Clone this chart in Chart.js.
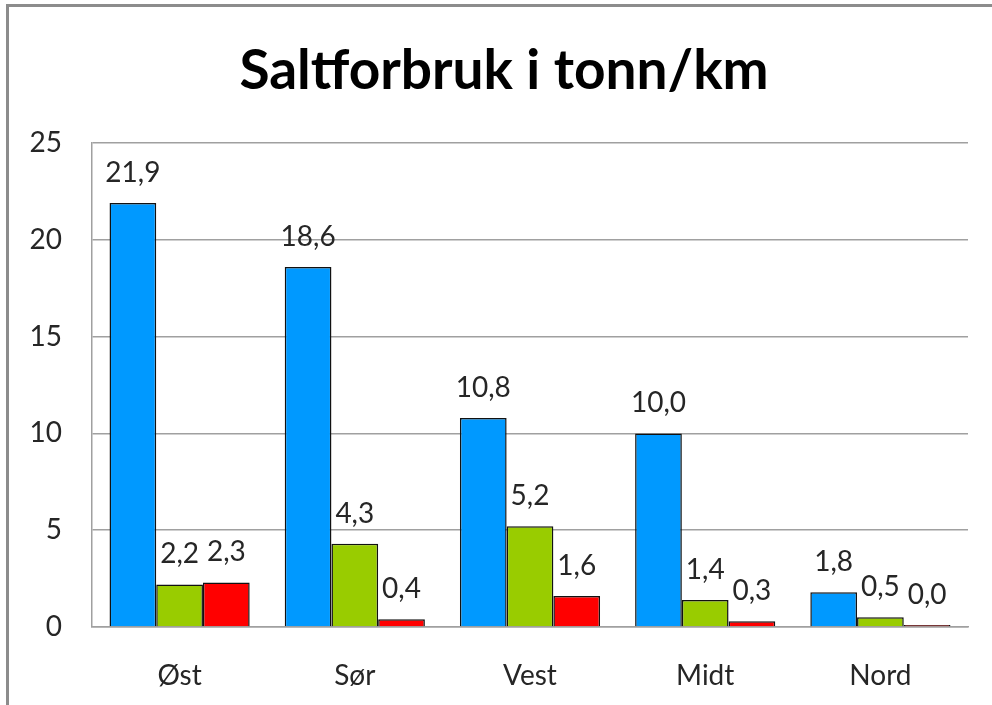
<!DOCTYPE html>
<html>
<head>
<meta charset="utf-8">
<script src="https://cdn.jsdelivr.net/npm/chart.js@4.4.0/dist/chart.umd.min.js"></script>
<style>
body { margin: 0; background: #fff; }
#wrap { position: relative; width: 992px; height: 705px; }
#ramme { position: absolute; left: 6px; top: 4px; width: 1000px; height: 720px;
  border-left: 3px solid #8c8c8c; border-top: 3px solid #8c8c8c; pointer-events: none; }
</style>
</head>
<body>
<div id="wrap">
<canvas id="myChart" width="992" height="705"></canvas>
<div id="ramme"></div>
</div>
<script>
// regioner og verdier (tonn/km)
const regioner = ['Øst', 'Sør', 'Vest', 'Midt', 'Nord'];
const serie1 = [21.9, 18.6, 10.8, 10.0, 1.8];
const serie2 = [2.2, 4.3, 5.2, 1.4, 0.5];
const serie3 = [2.3, 0.4, 1.6, 0.3, 0.0];
const yTicks = [0, 5, 10, 15, 20, 25];

const tekstFont = { family: 'Lato', size: 28 };

// verdier over stolpene, med komma som desimaltegn
const verdiEtiketter = {
    id: 'verdiEtiketter',
    afterDatasetsDraw(chart) {
        const ctx = chart.ctx;
        ctx.save();
        ctx.font = '28px Lato';
        ctx.fillStyle = '#262626';
        ctx.textAlign = 'center';
        ctx.textBaseline = 'alphabetic';
        chart.data.datasets.forEach((ds, i) => {
            const meta = chart.getDatasetMeta(i);
            meta.data.forEach((bar, j) => {
                let tekst = ds.data[j].toFixed(1).replace('.', ',');
                ctx.fillText(tekst, bar.x, bar.y - 21);
            });
        });
        ctx.restore();
    }
};

grafico();

function grafico() {
    const ctx = document.getElementById('myChart');
    new Chart(ctx, {
        type: 'bar',
        data: {
            labels: regioner,
            datasets: [{
                data: serie1,
                backgroundColor: '#0099ff',
                borderColor: '#111',
                borderWidth: 1.5
            }, {
                data: serie2,
                backgroundColor: '#99cc00',
                borderColor: '#111',
                borderWidth: 1.5
            }, {
                data: serie3,
                backgroundColor: '#ff0000',
                borderColor: '#111',
                borderWidth: 1.5,
                minBarLength: 2
            }]
        },
        options: {
            responsive: false,
            animation: false,
            datasets: {
                bar: { categoryPercentage: 0.8, barPercentage: 1.0 }
            },
            layout: { padding: { left: 16, right: 0, top: 0, bottom: 0 } },
            plugins: {
                legend: { display: false },
                tooltip: { enabled: false },
                title: {
                    display: true,
                    text: 'Saltforbruk i tonn/km',
                    color: '#000',
                    font: { family: 'Lato', size: 55, weight: 'bold', lineHeight: 1.2 },
                    padding: { top: 38, bottom: 39 }
                }
            },
            scales: {
                x: {
                    grid: { display: false },
                    border: { display: true, color: '#a0a0a0', width: 1.5 },
                    ticks: { color: '#262626', font: tekstFont, padding: 24 },
                    afterFit(scale) { scale.height = 78; }
                },
                y: {
                    min: 0,
                    max: 25,
                    afterBuildTicks(scale) { scale.ticks = yTicks.map(v => ({ value: v })); },
                    grid: { color: '#a0a0a0', lineWidth: 1.5, drawTicks: false },
                    border: { display: true, color: '#a0a0a0', width: 1.5 },
                    ticks: { color: '#262626', font: tekstFont, padding: 30 },
                    afterFit(scale) { scale.width = 76; }
                },
                // tom akse til høyre, bare for å gi luft
                hoyre: {
                    type: 'linear',
                    position: 'right',
                    grid: { display: false, drawTicks: false },
                    border: { display: false },
                    ticks: { display: false },
                    afterFit(scale) { scale.width = 24; }
                }
            }
        },
        plugins: [verdiEtiketter]
    });
}
</script>
</body>
</html>
